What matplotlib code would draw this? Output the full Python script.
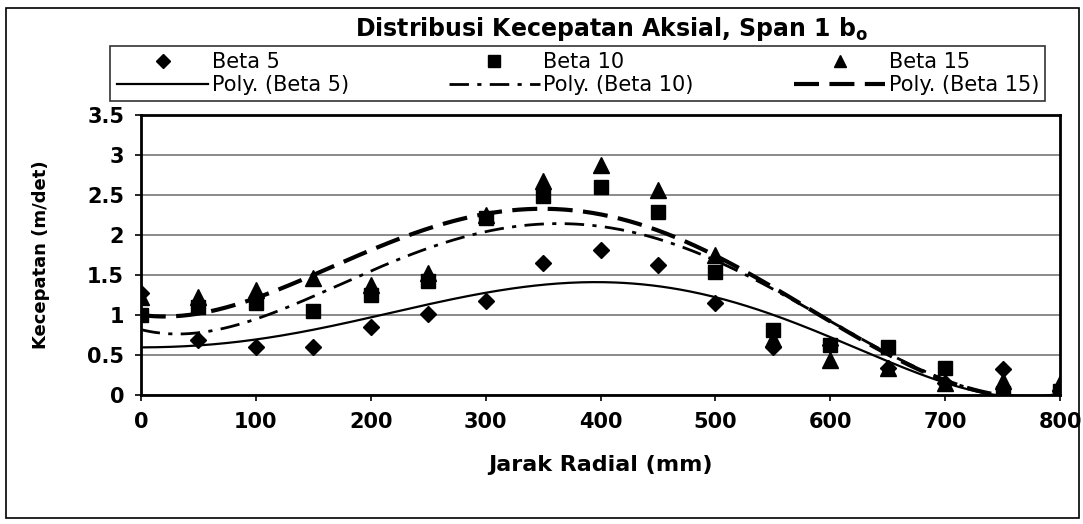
import numpy as np
import matplotlib
matplotlib.use("Agg")
import matplotlib.pyplot as plt
from matplotlib.patches import Rectangle
from matplotlib.lines import Line2D

plt.rcParams['font.family'] = ['DejaVu Sans']

# ---- data ----
jarak = [0, 50, 100, 150, 200, 250, 300, 350, 400, 450, 500, 550, 600, 650, 700, 750, 800]
beta5 = [1.27, 0.69, 0.60, 0.60, 0.85, 1.01, 1.17, 1.65, 1.81, 1.62, 1.15, 0.60, 0.62, 0.34, 0.15, 0.32, 0.05]
beta10 = [1.00, 1.10, 1.15, 1.05, 1.25, 1.42, 2.21, 2.48, 2.60, 2.29, 1.54, 0.81, 0.62, 0.60, 0.34, 0.03, 0.05]
beta15 = [1.22, 1.23, 1.31, 1.46, 1.37, 1.52, 2.25, 2.67, 2.87, 2.56, 1.75, 0.70, 0.44, 0.34, 0.15, 0.17, 0.15]

# polynomial trend lines ("Poly.") at the same radii
poly_beta5 = [0.60, 0.61, 0.69, 0.83, 0.98, 1.12, 1.27, 1.37, 1.42, 1.37, 1.21, 1.02, 0.71, 0.42, 0.15, 0.00, 0.02]
poly_beta10 = [0.81, 0.80, 0.95, 1.20, 1.54, 1.86, 2.07, 2.12, 2.08, 1.95, 1.70, 1.30, 0.95, 0.52, 0.17, 0.00, 0.00]
poly_beta15 = [1.00, 1.02, 1.22, 1.47, 1.82, 2.11, 2.25, 2.30, 2.26, 2.06, 1.78, 1.30, 0.93, 0.52, 0.17, 0.00, 0.00]
poly_order = 6

xticks = [0, 100, 200, 300, 400, 500, 600, 700, 800]
yticks = [0, 0.5, 1, 1.5, 2, 2.5, 3, 3.5]
yticklabels = ['0', '0.5', '1', '1.5', '2', '2.5', '3', '3.5']

fig = plt.figure(figsize=(10.83, 5.24), dpi=100)
ax = fig.add_axes([0.130, 0.246, 0.849, 0.535])

x = np.array(jarak, dtype=float)
xs = np.linspace(0, 800, 400)

ax.plot(jarak, beta5, linestyle='none', marker='D', color='black', ms=8, zorder=5)
ax.plot(jarak, beta10, linestyle='none', marker='s', color='black', ms=9.5, zorder=5)
ax.plot(jarak, beta15, linestyle='none', marker='^', color='black', ms=11, zorder=5)

f5 = np.polyval(np.polyfit(x, poly_beta5, poly_order), xs)
f10 = np.polyval(np.polyfit(x, poly_beta10, poly_order), xs)
f15 = np.polyval(np.polyfit(x, poly_beta15, poly_order), xs)
ax.plot(xs, f5, color='black', lw=1.6, zorder=4)
ax.plot(xs, f10, color='black', lw=2.0, dashes=(7, 3, 1.5, 3), zorder=4)
ax.plot(xs, f15, color='black', lw=3.0, dashes=(6, 2.5), zorder=4)

ax.set_xlim(0, 800)
ax.set_ylim(0, 3.5)
ax.set_xticks(xticks)
ax.set_xticklabels([str(t) for t in xticks])
ax.set_yticks(yticks)
ax.set_yticklabels(yticklabels)
ax.grid(axis='y', color='#777777', lw=1.2)
ax.set_axisbelow(True)
for s in ax.spines.values():
    s.set_linewidth(2)
ax.tick_params(axis='both', labelsize=15, width=1.2, length=4, pad=8)
for lab in ax.get_xticklabels() + ax.get_yticklabels():
    lab.set_fontweight('bold')
ax.set_xlabel('Jarak Radial (mm)', fontsize=16, fontweight='bold', labelpad=17)
ax.set_ylabel('Kecepatan (m/det)', fontsize=13, fontweight='bold', labelpad=27)

fig.text(0.565, 0.945, 'Distribusi Kecepatan Aksial, Span 1 b$_\\mathregular{o}$',
         ha='center', va='center', fontsize=17, fontweight='bold')

handles = [
    Line2D([], [], ls='none', marker='D', color='black', ms=7),
    Line2D([], [], color='black', lw=1.6),
    Line2D([], [], ls='none', marker='s', color='black', ms=8),
    Line2D([], [], color='black', lw=2.0, dashes=(7, 3, 1.5, 3)),
    Line2D([], [], ls='none', marker='^', color='black', ms=9),
    Line2D([], [], color='black', lw=3.0, dashes=(6, 2.5)),
]
labels = ['Beta 5', 'Poly. (Beta 5)', 'Beta 10', 'Poly. (Beta 10)', 'Beta 15', 'Poly. (Beta 15)']
leg = fig.legend(handles, labels, ncol=3, loc='upper left',
                 bbox_to_anchor=(0.102, 0.912),
                 fontsize=15, frameon=True, fancybox=False, edgecolor='black',
                 handlelength=4.4, handletextpad=0.15, borderaxespad=0, labelspacing=0.12,
                 borderpad=0.3, columnspacing=4.8)
leg.get_frame().set_linewidth(1.2)

fig.patches.append(Rectangle((0.006, 0.012), 0.99, 0.972, transform=fig.transFigure,
                             fill=False, edgecolor='black', lw=1.2))

fig.savefig('out.png', dpi=100)
